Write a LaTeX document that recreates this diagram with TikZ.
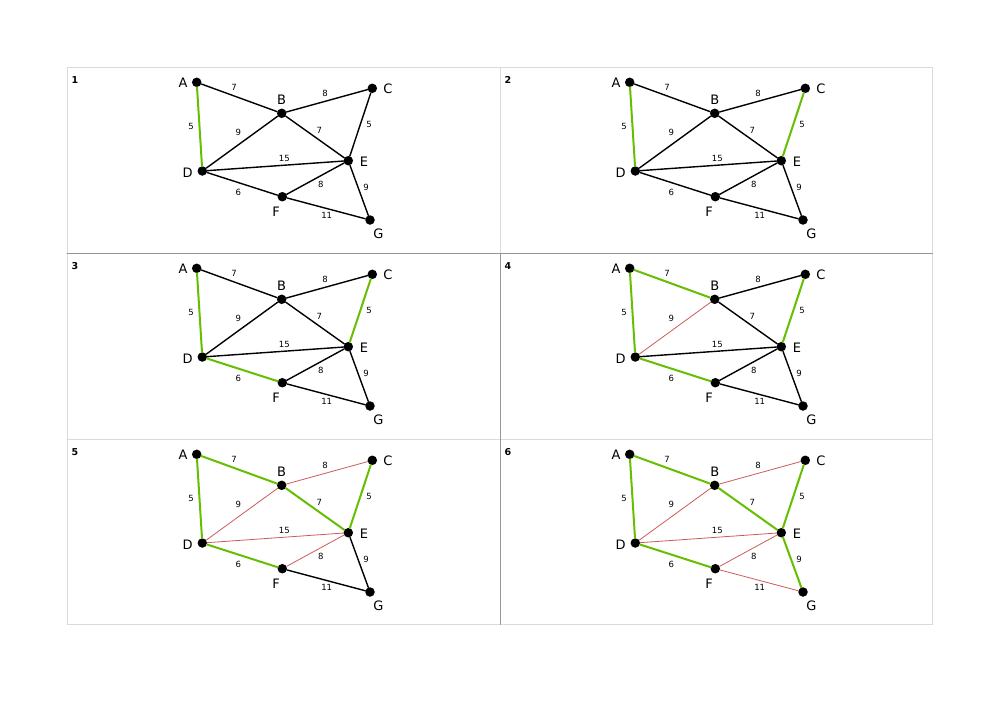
\documentclass[tikz,border=0pt]{standalone}
\usepackage{fontspec}
\setmainfont{DejaVu Sans}
\usetikzlibrary{positioning}

\definecolor{treegreen}{RGB}{102,190,0}
\definecolor{cutred}{RGB}{205,90,90}
\definecolor{lightframe}{RGB}{218,218,218}
\definecolor{darkframe}{RGB}{150,150,150}

\begin{document}
\begin{tikzpicture}[x=1pt,y=-1pt,line cap=round]
    \tikzstyle{vertex}=[circle, fill=black, inner sep=0pt, minimum size=9.5pt]
    \tikzstyle{letter}=[inner sep=0pt, font=\fontsize{13}{13}\selectfont]
    \tikzstyle{weight}=[inner sep=0pt, font=\fontsize{8.5}{9}\selectfont]
    \tikzstyle{number}=[inner sep=0pt, font=\bfseries\fontsize{9.5}{10}\selectfont]
    \tikzstyle{idle}=[black, line width=1.4pt]
    \tikzstyle{chosen}=[treegreen, line width=2pt]
    \tikzstyle{rejected}=[cutred, line width=0.8pt]

    \useasboundingbox (0,0) rectangle (1000,707);

    % frame
    \draw[lightframe, line width=1pt] (67,67.3) rectangle (932.3,624.3);
    \draw[lightframe, line width=1pt] (500,67.3) -- (500,253.3);
    \draw[lightframe, line width=1pt] (67,439.3) -- (932.3,439.3);
    \draw[darkframe, line width=1pt] (67,253.3) -- (932.3,253.3);
    \draw[darkframe, line width=1pt] (500,253.3) -- (500,624.3);

    \foreach \p/\ox/\oy/\edges in {
      1/67/67.3/{A/B/idle, A/D/chosen, B/C/idle, B/D/idle, B/E/idle, C/E/idle, D/E/idle, D/F/idle, E/F/idle, E/G/idle, F/G/idle},
      2/500/67.3/{A/B/idle, A/D/chosen, B/C/idle, B/D/idle, B/E/idle, C/E/chosen, D/E/idle, D/F/idle, E/F/idle, E/G/idle, F/G/idle},
      3/67/253.3/{A/B/idle, A/D/chosen, B/C/idle, B/D/idle, B/E/idle, C/E/chosen, D/E/idle, D/F/chosen, E/F/idle, E/G/idle, F/G/idle},
      4/500/253.3/{A/B/chosen, A/D/chosen, B/C/idle, B/D/rejected, B/E/idle, C/E/chosen, D/E/idle, D/F/chosen, E/F/idle, E/G/idle, F/G/idle},
      5/67/439.3/{A/B/chosen, A/D/chosen, B/C/rejected, B/D/rejected, B/E/chosen, C/E/chosen, D/E/rejected, D/F/chosen, E/F/rejected, E/G/idle, F/G/idle},
      6/500/439.3/{A/B/chosen, A/D/chosen, B/C/rejected, B/D/rejected, B/E/chosen, C/E/chosen, D/E/rejected, D/F/chosen, E/F/rejected, E/G/chosen, F/G/rejected}}
    {
    \begin{scope}[shift={(\ox,\oy)}]
      \node[number] (n\p) at (8,13) {\p};

      \foreach \n/\x/\y in {A/129.7/15, B/214.7/46, C/305.3/21, D/135.3/103.7,
                            E/281.3/93.4, F/215.3/129.4, G/303/152.7}
        \node[vertex] (\n\p) at (\x,\y) {};

      \foreach \u/\v/\s in \edges
        \draw[\s] (\u\p) -- (\v\p);

      \foreach \n/\x/\y in {A/116/15.5, B/214.7/32, C/321/21.7, D/120.7/105.4,
                            E/297/94.4, F/209/144.4, G/311.3/166}
        \node[letter] (l\n\p) at (\x,\y) {\n};

      \foreach \u/\v/\w/\x/\y in {A/B/7/167/20, B/C/8/258/26, A/D/5/124/58.7,
                                  B/D/9/171.3/65.4, B/E/7/252.3/63.4, C/E/5/302/56.7,
                                  D/E/15/217.3/91, E/F/8/253.7/116.7, E/G/9/299/120.4,
                                  D/F/6/171.3/125, F/G/11/259.7/147.7}
        \node[weight] (w\u\v\p) at (\x,\y) {\w};
    \end{scope}
    }
\end{tikzpicture}
\end{document}
